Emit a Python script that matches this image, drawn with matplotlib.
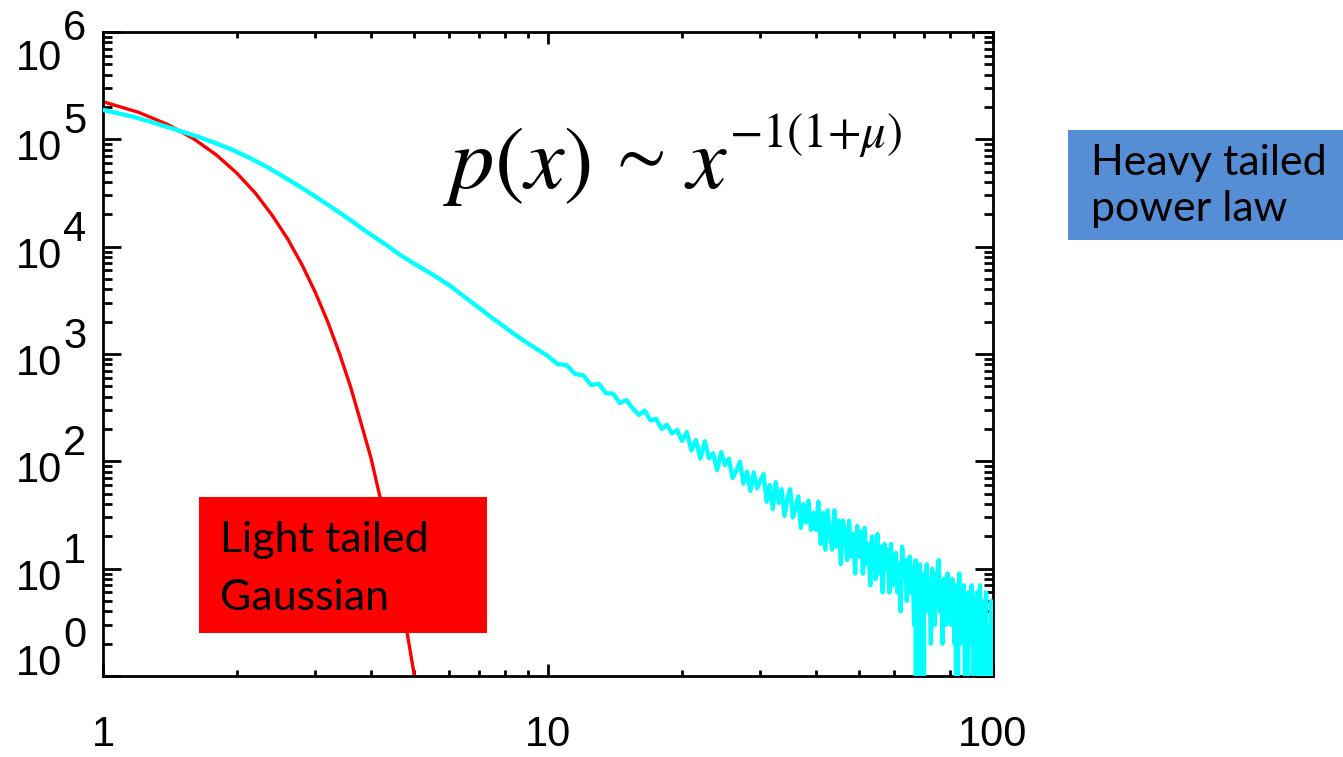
import numpy as np
import matplotlib
matplotlib.use("Agg")
import matplotlib.pyplot as plt
from matplotlib.patches import Rectangle
from matplotlib.ticker import LogLocator, NullFormatter

plt.rcParams["font.family"] = ["Liberation Sans", "DejaVu Sans"]

# light tailed (gaussian) curve
gauss_x = [1.0, 1.2, 1.4, 1.6, 1.8, 2.0, 2.2, 2.4, 2.6, 2.8, 3.0,
           3.2, 3.4, 3.6, 3.8, 4.0, 4.2, 4.4, 4.6, 4.8, 5.0, 5.2]
gauss_y = [2.24e5, 1.79e5, 1.37e5, 1.01e5, 7.13e4, 4.83e4, 3.15e4, 1.96e4,
           1.18e4, 6790, 3750, 1990, 1010, 495, 228, 108, 45, 18.8,
           7.5, 2.86, 1.05, 0.37]

# heavy tailed curve: smooth head ...
heavy_head_x = [1.0, 1.08, 1.17, 1.27, 1.39, 1.51, 1.65, 1.8, 1.96, 2.14,
                2.33, 2.54, 2.77, 3.02, 3.29, 3.59, 3.91, 4.27, 4.65, 5.07, 5.52]
heavy_head_y = [1.88e5, 1.75e5, 1.62e5, 1.47e5, 1.31e5, 1.175e5, 1.043e5,
                9.14e4, 7.94e4, 6.68e4, 5.56e4, 4.51e4, 3.62e4, 2.88e4,
                2.28e4, 1.78e4, 1.38e4, 1.08e4, 8380, 6730, 5450]

# ... then noisy histogram counts, bins of 0.5 from x = 6 to 100
tail_start = 6.0
tail_step = 0.5
heavy_tail_y = [
    # 6.0 - 9.5
    4370, 3390, 2690, 2160, 1780, 1480, 1260, 1095,
    # 10.0 - 20.0
    955, 806, 790, 652, 631, 515, 528, 430, 428, 350,
    372, 312, 271, 296, 240, 249, 200, 219, 182, 196, 155,
    # 20.5 - 30.0
    188, 126, 158, 106, 154, 107, 119, 83, 122, 92,
    106, 70, 82, 99, 62, 80, 53, 79, 56, 66,
    # 30.5 - 40.0
    76, 42, 60, 36, 64, 41, 55, 31, 45, 55,
    30, 37, 47, 24, 40, 27, 43, 23, 33, 23,
    # 40.5 - 60.0
    42, 17, 33, 15, 35, 21, 15, 35, 16, 28,
    11, 28, 21, 12, 28, 13, 21, 9, 25, 13,
    22, 9, 24, 11, 17, 7, 20, 13, 8, 21,
    9, 16, 6, 17, 10, 15, 6, 17, 7, 12,
    # 60.5 - 100.0
    14, 6, 11, 4, 16, 8, 12, 5, 9, 13,
    6, 10, 3, 12, 0, 8, 11, 5, 0, 9,
    6, 11, 4, 8, 2, 10, 7, 3, 9, 5,
    12, 4, 7, 2, 8, 6, 3, 9, 4, 6,
    3, 8, 5, 2, 7, 0, 4, 9, 2, 6,
    3, 7, 1, 5, 0, 6, 3, 2, 7, 4,
    1, 5, 0, 6, 3, 2, 7, 1, 4, 0,
    5, 2, 6, 0, 3, 1, 0, 5, 2, 4,
]

x_ticks = [1, 10, 100]
x_tick_labels = ["1", "10", "100"]
y_exponents = [0, 1, 2, 3, 4, 5, 6]

tail_x = tail_start + tail_step * np.arange(len(heavy_tail_y))
heavy_x = np.concatenate([heavy_head_x, tail_x])
heavy_y = np.concatenate([heavy_head_y, heavy_tail_y]).astype(float)

W, H = 1343, 757
fig = plt.figure(figsize=(W / 100, H / 100), dpi=100)
ax = fig.add_axes([103 / W, 1 - 676 / H, (993 - 103) / W, (676 - 32) / H])

ax.plot(gauss_x, gauss_y, color="#FF0000", lw=2.4, zorder=2)
ax.plot(heavy_x, heavy_y, color="#00FFFF", lw=3.1, zorder=3)

ax.set_xscale("log")
ax.set_yscale("log", nonpositive="clip")
ax.set_xlim(1, 100)
ax.set_ylim(1, 1e6)

for s in ax.spines.values():
    s.set_linewidth(2.0)

ax.set_xticks(x_ticks, x_tick_labels)
ax.xaxis.set_minor_locator(LogLocator(base=10, subs=np.arange(2, 10), numticks=20))
ax.xaxis.set_minor_formatter(NullFormatter())
ax.set_yticks([10.0 ** e for e in y_exponents])
ax.yaxis.set_major_formatter(NullFormatter())
ax.yaxis.set_minor_locator(LogLocator(base=10, subs=np.arange(2, 10), numticks=20))
ax.yaxis.set_minor_formatter(NullFormatter())

ax.tick_params(which="both", direction="in", top=True, right=True, width=2)
ax.tick_params(axis="x", which="major", length=8.5, labelsize=30, pad=28)
ax.tick_params(axis="x", which="minor", length=4.5)
ax.tick_params(axis="y", which="major", length=13)
ax.tick_params(axis="y", which="minor", length=6.5)

# y labels drawn IDL style: "10" with a full size exponent
ytrans = ax.get_yaxis_transform()
for e in y_exponents:
    base_dy, exp_dy = -21, 6
    if e == 6:
        base_dy, exp_dy = -38, -8
    elif e == 0:
        base_dy, exp_dy = 1, 29
    ax.annotate("10", xy=(0, 10.0 ** e), xycoords=ytrans, xytext=(-41, base_dy),
                textcoords="offset pixels", ha="right", va="baseline", fontsize=30,
                annotation_clip=False)
    ax.annotate(str(e), xy=(0, 10.0 ** e), xycoords=ytrans, xytext=(-40, exp_dy),
                textcoords="offset pixels", ha="left", va="baseline", fontsize=30,
                annotation_clip=False)

# formula, pieces set separately to match the spacing of the original
fkw = dict(math_fontfamily="stix", va="baseline", ha="left")
fig.text(443 / W, 1 - 188 / H, r"$p(x)$", fontsize=64, **fkw)
fig.text(606 / W, 1 - 176 / H, r"$\sim$", fontsize=52, **fkw)
fig.text(684 / W, 1 - 188 / H, r"$x$", fontsize=64, **fkw)
fig.text(729 / W, 1 - 147 / H, r"$-1(1{+}\mu)$", fontsize=35, **fkw)

# callout boxes
fig.add_artist(Rectangle((199 / W, 1 - 633 / H), 288 / W, 136 / H,
                         transform=fig.transFigure, fc="#FF0000", ec="none", zorder=5))
fig.text(220 / W, 1 - 552 / H, "Light tailed", fontsize=31, family="Lato",
         va="baseline", zorder=6)
fig.text(220 / W, 1 - 610 / H, "Gaussian", fontsize=31, family="Lato",
         va="baseline", zorder=6)

fig.add_artist(Rectangle((1068 / W, 1 - 240 / H), (W - 1068) / W, 110 / H,
                         transform=fig.transFigure, fc="#558ED5", ec="none", zorder=5))
fig.text(1091 / W, 1 - 175 / H, "Heavy tailed", fontsize=31, family="Lato",
         va="baseline", zorder=6)
fig.text(1091 / W, 1 - 221 / H, "power law", fontsize=31, family="Lato",
         va="baseline", zorder=6)

fig.savefig("out.png", dpi=100)
